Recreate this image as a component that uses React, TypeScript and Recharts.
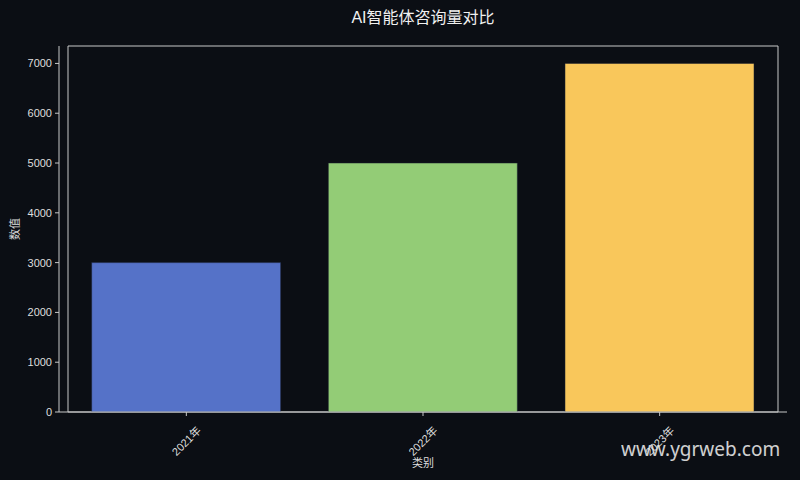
import React from 'react';
import { BarChart, Bar, XAxis, YAxis, Cell, Label, ReferenceArea } from 'recharts';

const categories = ['2021年', '2022年', '2023年'];
const values = [3000, 5000, 7000];
const barColors = ['#5572c8', '#93cc76', '#f9c75b'];
const yTicks = [0, 1000, 2000, 3000, 4000, 5000, 6000, 7000];
const yMax = 7350;

const data = categories.map((name, i) => ({ name, value: values[i], color: barColors[i] }));

const BG = '#0b0e14';
const AXIS = '#c8c8c8';
const TEXT = '#dedede';
const FONT = '"Liberation Sans", "Noto Sans CJK SC", sans-serif';

const RotatedTick = (props: any) => {
    const { x, y, payload } = props;
    const cy = y + 23;
    return (
        <text
            x={x}
            y={cy}
            fill={TEXT}
            fontSize={11}
            fontFamily={FONT}
            textAnchor="middle"
            dominantBaseline="central"
            transform={`rotate(-45, ${x}, ${cy})`}
        >
            {payload.value}
        </text>
    );
};

const App: React.FC = () => {
    return (
        <div style={{ position: 'absolute', left: 0, top: 0, width: 800, height: 480, background: BG, fontFamily: FONT }}>
            <div
                style={{
                    position: 'absolute',
                    left: 59,
                    width: 728,
                    top: 8,
                    textAlign: 'center',
                    color: '#f0f0f0',
                    fontSize: 16,
                    lineHeight: '20px'
                }}
            >
                AI智能体咨询量对比
            </div>
            <BarChart
                width={800}
                height={480}
                data={data}
                margin={{ top: 46, right: 13, left: 0, bottom: 0 }}
                barCategoryGap="10%"
            >
                <XAxis
                    dataKey="name"
                    height={68}
                    padding={{ left: 9, right: 9 }}
                    axisLine={{ stroke: AXIS }}
                    tickLine={{ stroke: AXIS }}
                    tickSize={4}
                    tick={<RotatedTick />}
                    interval={0}
                >
                    <Label value="类别" position="insideBottom" offset={13} fill={TEXT} fontSize={11} fontFamily={FONT} />
                </XAxis>
                <YAxis
                    width={59}
                    domain={[0, yMax]}
                    ticks={yTicks}
                    axisLine={{ stroke: AXIS }}
                    tickLine={{ stroke: AXIS }}
                    tickSize={4}
                    tickMargin={3}
                    tick={{ fill: TEXT, stroke: 'none', fontSize: 11, fontFamily: FONT }}
                    allowDataOverflow
                >
                    <Label
                        value="数值"
                        angle={-90}
                        position="insideLeft"
                        offset={15}
                        fill={TEXT}
                        fontSize={11}
                        fontFamily={FONT}
                        style={{ textAnchor: 'middle' }}
                    />
                </YAxis>
                <ReferenceArea y1={0} y2={yMax} fill="none" fillOpacity={0} stroke={AXIS} strokeWidth={1} ifOverflow="visible" />
                <Bar dataKey="value" isAnimationActive={false} stroke="#1a2030" strokeOpacity={0.5} strokeWidth={1}>
                    {data.map((d, i) => (
                        <Cell key={`cell-${i}`} fill={d.color} />
                    ))}
                </Bar>
            </BarChart>
            <div
                style={{
                    position: 'absolute',
                    left: 621,
                    top: 436,
                    color: '#e6e6e6',
                    opacity: 0.9,
                    fontSize: 19,
                    fontFamily: '"Noto Sans", sans-serif',
                    lineHeight: '26px'
                }}
            >
                www.ygrweb.com
            </div>
        </div>
    );
};

export default App;
